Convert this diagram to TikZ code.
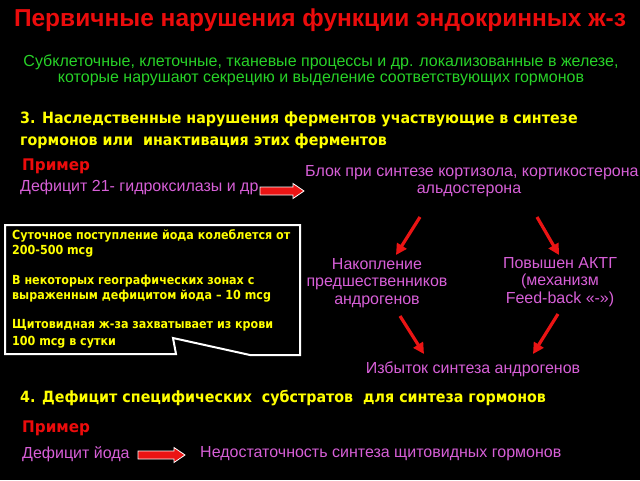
\documentclass[tikz,border=0pt]{standalone}
\usepackage{fontspec}
\setmainfont{Liberation Sans}
\newfontfamily\nar{Liberation Sans}
\newfontfamily\bld[FakeStretch=0.92]{DejaVu Sans}
\newfontfamily\bldb[FakeStretch=0.89]{DejaVu Sans}
\newfontfamily\bldc[FakeStretch=0.95]{DejaVu Sans}
\usetikzlibrary{arrows.meta}
\definecolor{ttlred}{RGB}{235,12,12}
\definecolor{grn}{RGB}{40,210,40}
\definecolor{ylw}{RGB}{255,255,0}
\definecolor{mag}{RGB}{215,95,215}
\definecolor{arrred}{RGB}{235,20,20}
\newcommand\blkarrow[3]{% x1, x2, y
  \filldraw[blockarr] (#1,#3-4) -- (#2-11,#3-4) -- (#2-11,#3-7.5) -- (#2,#3)
    -- (#2-11,#3+7.5) -- (#2-11,#3+4) -- (#1,#3+4) -- cycle;}
\begin{document}
\begin{tikzpicture}[x=1pt,y=-1pt,
  lt/.style={inner sep=0pt,anchor=west},
  ct/.style={inner sep=0pt,anchor=center},
  grntxt/.style={text=grn,font=\nar\fontsize{16}{17}\selectfont},
  magtxt/.style={text=mag,font=\nar\fontsize{16}{17.5}\selectfont},
  ylwhead/.style={text=ylw,font=\bld\bfseries\fontsize{15.5}{17}\selectfont},
  boxtxt/.style={text=ylw,font=\bldb\bfseries\fontsize{12.5}{14}\selectfont},
  primer/.style={text=ttlred,font=\bldc\bfseries\fontsize{16}{18}\selectfont},
  thinarrow/.style={draw=arrred,line width=3.2pt,-{Triangle[length=11pt,width=11pt]}},
  blockarr/.style={fill=arrred,draw=white,line width=0.8pt}
]
\fill[black] (0,0) rectangle (640,480);
\useasboundingbox (0,0) rectangle (640,480);

% title
\node[ct,text=ttlred,font=\bfseries\fontsize{24.5}{28}\selectfont] (title) at (320,20)
  {Первичные нарушения функции эндокринных ж-з};

% green subtitle
\node[ct,grntxt] (sub1) at (321,62)
  {Субклеточные, клеточные, тканевые процессы и др. локализованные в железе,};
\node[ct,grntxt] (sub2) at (321,80)
  {которые нарушают секрецию и выделение соответствующих гормонов};

% heading 3
\node[lt,ylwhead] (h3a) at (20,119)
  {3. Наследственные нарушения ферментов участвующие в синтезе};
\node[lt,ylwhead] (h3b) at (20,141)
  {гормонов или\ \ инактивация этих ферментов};

\node[lt,primer] (pr1) at (22,166) {Пример};
\node[lt,magtxt] (def21) at (20,187) {Дефицит 21- гидроксилазы и др};
\blkarrow{260}{304}{191}
\node[lt,magtxt] (blok1) at (305,173) {Блок при синтезе кортизола, кортикостерона};
\node[ct,magtxt] (blok2) at (469,191) {альдостерона};

% callout box
\draw[white,line width=2pt]
  (5,225) -- (300,225) -- (300,355) -- (250,355) -- (173,338) -- (176,354) -- (5,354) -- cycle;
\node[lt,boxtxt] (b1) at (12,236) {Суточное поступление йода колеблется от};
\node[lt,boxtxt] (b2) at (12,251) {200-500 mcg};
\node[lt,boxtxt] (b3) at (12,281) {В некоторых географических зонах с};
\node[lt,boxtxt] (b4) at (12,296) {выраженным дефицитом йода – 10 mcg};
\node[lt,boxtxt] (b5) at (12,325) {Щитовидная ж-за захватывает из крови};
\node[lt,boxtxt] (b6) at (12,342) {100 mcg в сутки};

% scheme
\node[ct,magtxt,align=center] (nak) at (377,283)
  {Накопление\\предшественников\\андрогенов};
\node[ct,magtxt,align=center] (akth) at (560,282)
  {Повышен АКТГ\\(механизм\\Feed-back «-»)};
\node[ct,magtxt] (izb) at (473,369) {Избыток синтеза андрогенов};

\coordinate (a1s) at (420,217); \coordinate (a1e) at (396,255);
\coordinate (a2s) at (537,217); \coordinate (a2e) at (559,255);
\coordinate (a3s) at (400,316); \coordinate (a3e) at (424,354);
\coordinate (a4s) at (558,314); \coordinate (a4e) at (533,354);
\draw[thinarrow] (a1s) -- (a1e);
\draw[thinarrow] (a2s) -- (a2e);
\draw[thinarrow] (a3s) -- (a3e);
\draw[thinarrow] (a4s) -- (a4e);

% heading 4
\node[lt,ylwhead] (h4) at (20,398)
  {4. Дефицит специфических\ \ субстратов\ \ для синтеза гормонов};
\node[lt,primer] (pr2) at (22,428) {Пример};
\node[lt,magtxt] (defj) at (22,454) {Дефицит йода};
\blkarrow{138}{185}{455}
\node[lt,magtxt] (nedost) at (200,454) {Недостаточность синтеза щитовидных гормонов};
\end{tikzpicture}
\end{document}
